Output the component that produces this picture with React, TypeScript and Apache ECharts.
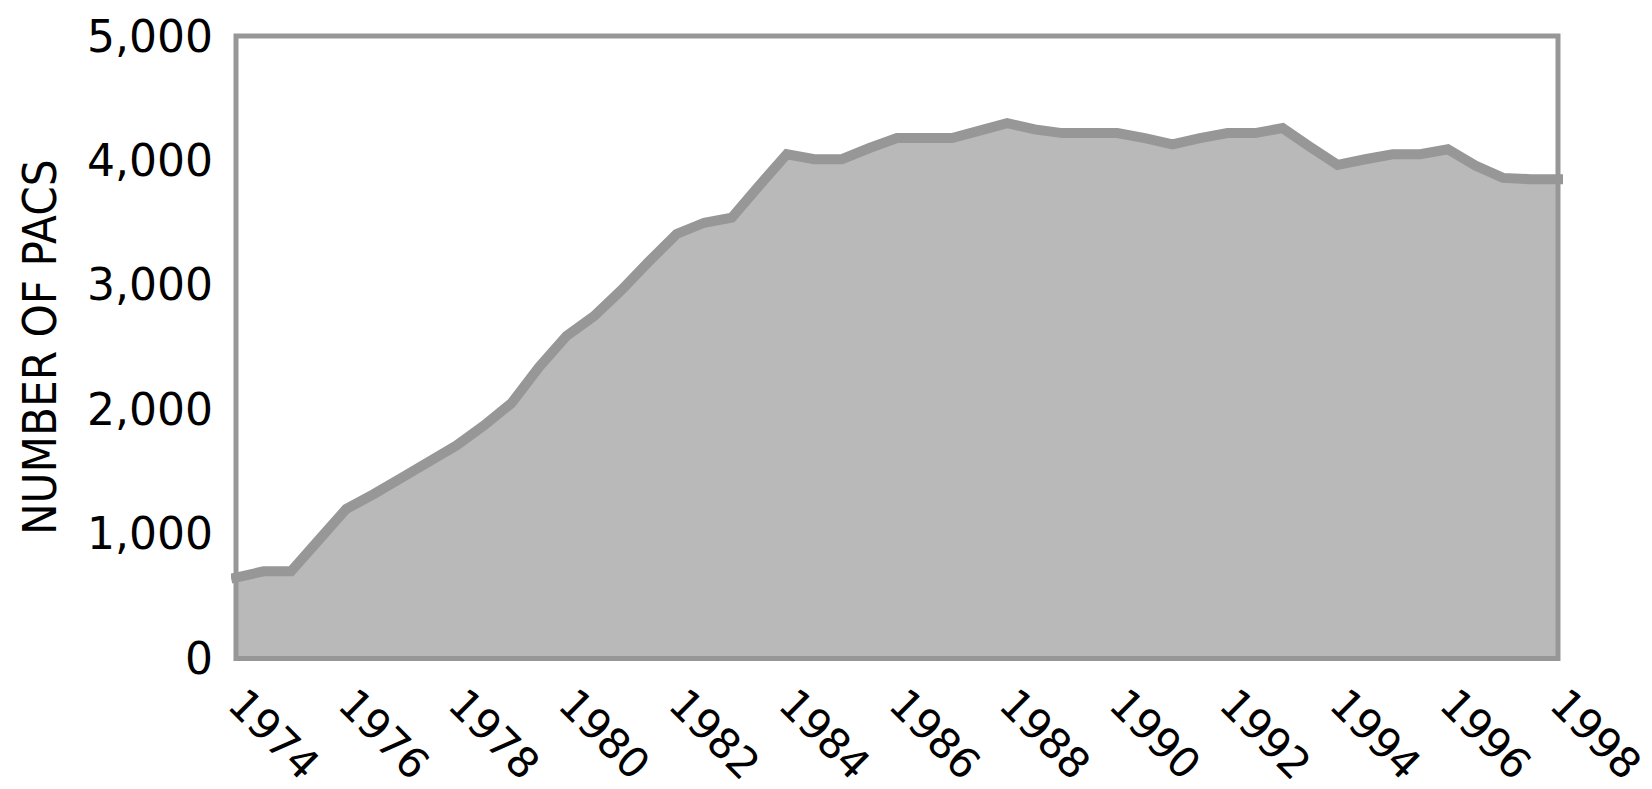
import React, { useEffect, useRef } from "react";
import * as echarts from "echarts";

// Half-year reporting periods (x positions in years)
const periods: number[] = [
  1974, 1974.5, 1975, 1975.5, 1976, 1976.5, 1977, 1977.5, 1978, 1978.5,
  1979, 1979.5, 1980, 1980.5, 1981, 1981.5, 1982, 1982.5, 1983, 1983.5,
  1984, 1984.5, 1985, 1985.5, 1986, 1986.5, 1987, 1987.5, 1988, 1988.5,
  1989, 1989.5, 1990, 1990.5, 1991, 1991.5, 1992, 1992.5, 1993, 1993.5,
  1994, 1994.5, 1995, 1995.5, 1996, 1996.5, 1997, 1997.5, 1998,
];

// Number of PACs
const pacs: number[] = [
  650, 700, 700, 950, 1200, 1320, 1450, 1580, 1710, 1870,
  2050, 2340, 2590, 2750, 2960, 3190, 3410, 3500, 3540, 3800,
  4050, 4010, 4010, 4100, 4180, 4180, 4180, 4240, 4300, 4250,
  4220, 4220, 4220, 4180, 4130, 4180, 4220, 4220, 4260, 4110,
  3965, 4010, 4050, 4050, 4090, 3960, 3860, 3850, 3850,
];

const yTicks = { min: 0, max: 5000, interval: 1000 };
const xTicks = { min: 1974, max: 1998, interval: 2 };
const yAxisTitle = "NUMBER OF PACS";

const FONT = "'DejaVu Sans', sans-serif";
const GRAY = "#979797";

export default function App() {
  const ref = useRef<HTMLDivElement>(null);
  useEffect(() => {
    if (!ref.current) return;
    const chart = echarts.init(ref.current, null, { renderer: "svg" });
    const data = periods.map((p, i) => [p, pacs[i]]);
    chart.setOption({
      animation: false,
      backgroundColor: "#ffffff",
      grid: {
        left: 236,
        right: 94,
        top: 36,
        bottom: 129.5,
        show: true,
        z: 3,
        backgroundColor: "transparent",
        borderColor: GRAY,
        borderWidth: 5,
      },
      xAxis: {
        type: "value",
        min: xTicks.min,
        max: xTicks.max,
        interval: xTicks.interval,
        axisLine: { show: false },
        axisTick: { show: false },
        splitLine: { show: false },
        axisLabel: {
          rotate: -45,
          margin: 38,
          padding: [43, 0, 0, 0],
          color: "#000",
          fontSize: 42,
          fontFamily: FONT,
          showMinLabel: true,
          showMaxLabel: true,
          formatter: (v: number) => String(v),
        },
      },
      yAxis: {
        type: "value",
        min: yTicks.min,
        max: yTicks.max,
        interval: yTicks.interval,
        name: yAxisTitle,
        nameLocation: "middle",
        nameGap: 173,
        nameTextStyle: {
          color: "#000",
          fontSize: 47,
          fontFamily: "'DejaVu Sans Condensed', 'DejaVu Sans', sans-serif",
        },
        axisLine: { show: false },
        axisTick: { show: false },
        splitLine: { show: false },
        axisLabel: {
          margin: 23,
          padding: [0, 0, 12, 0],
          color: "#000",
          fontSize: 44,
          fontFamily: FONT,
          formatter: (v: number) => v.toLocaleString("en-US"),
        },
      },
      series: [
        {
          type: "line",
          data,
          z: 1,
          symbol: "none",
          lineStyle: { width: 0, opacity: 0 },
          areaStyle: { color: "#b9b9b9", opacity: 1 },
        },
        {
          type: "line",
          data,
          z: 5,
          symbol: "none",
          lineStyle: { width: 10, color: GRAY, cap: "square", join: "miter" },
        },
      ],
    });
    return () => chart.dispose();
  }, []);
  return (
    <div
      ref={ref}
      style={{ position: "fixed", left: 0, top: 0, width: 1652, height: 789 }}
    />
  );
}
